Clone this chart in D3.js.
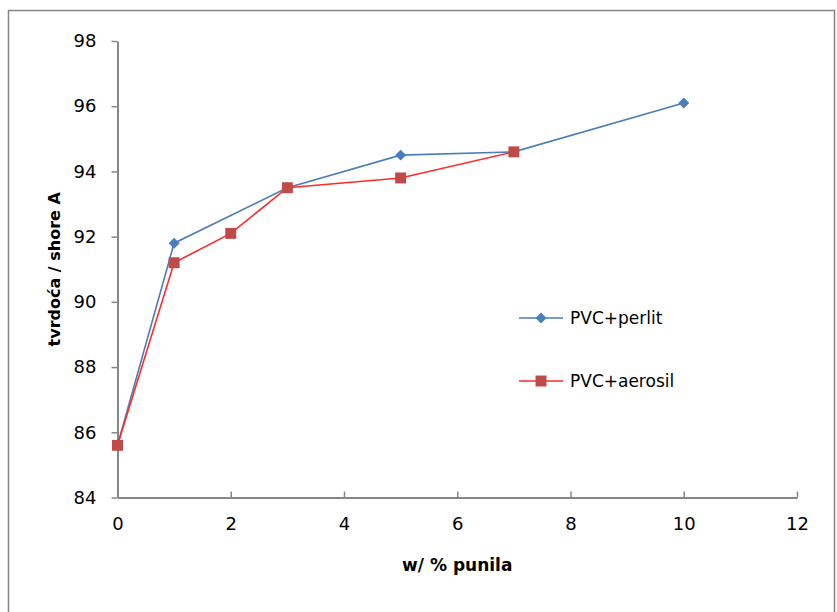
<!DOCTYPE html>
<html>
<head>
<meta charset="utf-8">
<script src="https://cdn.jsdelivr.net/npm/d3@7"></script>
<style>
  body { margin: 0; background: #fff; }
  text { font-family: "DejaVu Sans", Verdana, sans-serif; fill: #000; }
</style>
</head>
<body>
<div class="chart-container"></div>
<script>
// Data
const seriesNames = ["PVC+perlit", "PVC+aerosil"];
const perlitX = [0, 1, 3, 5, 7, 10];
const perlitY = [85.6, 91.8, 93.5, 94.5, 94.6, 96.1];
const aerosilX = [0, 1, 2, 3, 5, 7];
const aerosilY = [85.6, 91.2, 92.1, 93.5, 93.8, 94.6];
const xTicks = [0, 2, 4, 6, 8, 10, 12];
const yTicks = [84, 86, 88, 90, 92, 94, 96, 98];

const width = 837, height = 612;
const margin = { top: 41, bottom: 114.5, left: 117.5, right: 40 };

let svg = d3.select('.chart-container').append('svg')
  .attr("width", width).attr("height", height);

// outer border
svg.append("rect")
  .attr("x", 8.5).attr("y", 10.5)
  .attr("width", 826).attr("height", 610)
  .attr("fill", "none").attr("stroke", "#868686").attr("stroke-width", 1.5);

/// Scales
const x = d3.scaleLinear().domain([0, 12]).range([margin.left, width - margin.right]);
const y = d3.scaleLinear().domain([84, 98]).range([height - margin.bottom, margin.top]);

// Y axis
const yAxis = svg.append("g")
  .attr("transform", `translate(${margin.left},0)`)
  .call(d3.axisLeft(y).tickValues(yTicks).tickSize(6).tickPadding(15).tickSizeOuter(0));
// X axis
const xAxis = svg.append("g")
  .attr("transform", `translate(0,${height - margin.bottom})`)
  .call(d3.axisBottom(x).tickValues(xTicks).tickSize(-6).tickPadding(20).tickSizeOuter(0));

[yAxis, xAxis].forEach(a => {
  a.select(".domain").attr("stroke", "#868686").attr("stroke-width", 2);
  a.selectAll(".tick line").attr("stroke", "#868686").attr("stroke-width", 1.5);
  a.selectAll(".tick text").style("font-size", "18px").attr("fill", "#000");
});

// axis titles
svg.append("text")
  .attr("transform", `translate(60,${(y(84) + y(98)) / 2}) rotate(-90)`)
  .attr("text-anchor", "middle")
  .style("font-size", "16px").style("font-weight", "bold")
  .text("tvrdoća / shore A");

svg.append("text")
  .attr("x", (x(0) + x(12)) / 2)
  .attr("y", 571)
  .attr("text-anchor", "middle")
  .style("font-size", "17px").style("font-weight", "bold")
  .text("w/ % punila");

// series
const series = [
  { name: seriesNames[0], xs: perlitX, ys: perlitY, line: "#4A7EBB", mark: "#4A7EBB", rot: 45, size: 60 },
  { name: seriesNames[1], xs: aerosilX, ys: aerosilY, line: "#FF2A2A", mark: "#BE4B48", rot: 0, size: 120 }
];
const line = d3.line().x(d => x(d[0])).y(d => y(d[1]));

series.forEach(s => {
  const pts = s.xs.map((v, i) => [v, s.ys[i]]);
  svg.append("path")
    .datum(pts)
    .attr("d", line)
    .attr("fill", "none")
    .attr("stroke", s.line)
    .attr("stroke-width", 1.6);
});
series.forEach(s => {
  const pts = s.xs.map((v, i) => [v, s.ys[i]]);
  svg.append("g").selectAll("path")
    .data(pts)
    .enter().append("path")
    .attr("transform", d => `translate(${x(d[0])},${y(d[1])}) rotate(${s.rot})`)
    .attr("d", d3.symbol().type(d3.symbolSquare).size(s.size))
    .attr("fill", s.mark);
});

// Legend
const legend = svg.append("g");
series.forEach((s, i) => {
  const ly = 318 + i * 63;
  legend.append("line")
    .attr("x1", 519).attr("x2", 563).attr("y1", ly).attr("y2", ly)
    .attr("stroke", s.line).attr("stroke-width", 1.6);
  legend.append("path")
    .attr("transform", `translate(541,${ly}) rotate(${s.rot})`)
    .attr("d", d3.symbol().type(d3.symbolSquare).size(s.size))
    .attr("fill", s.mark);
  legend.append("text")
    .attr("x", 570).attr("y", ly + 6)
    .style("font-size", "17px")
    .text(s.name);
});
</script>
</body>
</html>
